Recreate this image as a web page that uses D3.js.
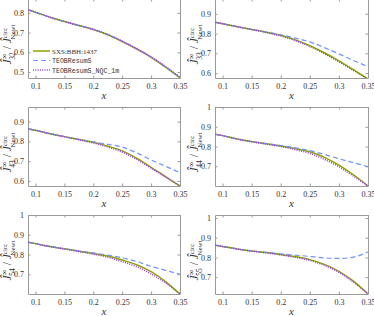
<!DOCTYPE html>
<html>
<head>
<meta charset="utf-8">
<script src="https://cdn.jsdelivr.net/npm/d3@7"></script>
<style>
  body { margin: 0; background: #ffffff; }
  svg { display: block; }
  .tick text { font-family: "Liberation Serif", serif; font-size: 8px; fill: #333; }
</style>
</head>
<body>
<svg id="chart" width="374" height="316"></svg>
<script>
// sample points in x
const xs = [0.0875, 0.1, 0.125, 0.15, 0.175, 0.2, 0.225, 0.25, 0.275, 0.3, 0.325, 0.35];

// (3,2)
const sxs32  = [0.815, 0.803, 0.778, 0.756, 0.736, 0.716, 0.689, 0.655, 0.617, 0.575, 0.525, 0.470];
const teob32 = [0.815, 0.803, 0.778, 0.756, 0.736, 0.716, 0.690, 0.656, 0.618, 0.576, 0.527, 0.472];
const nqc32  = [0.815, 0.803, 0.778, 0.756, 0.736, 0.716, 0.690, 0.656, 0.619, 0.577, 0.528, 0.475];
// (3,3)
const sxs33  = [0.857, 0.850, 0.835, 0.821, 0.807, 0.791, 0.768, 0.739, 0.703, 0.662, 0.617, 0.570];
const teob33 = [0.857, 0.850, 0.835, 0.821, 0.808, 0.794, 0.777, 0.758, 0.729, 0.697, 0.664, 0.632];
const nqc33  = [0.857, 0.850, 0.835, 0.820, 0.805, 0.788, 0.764, 0.734, 0.698, 0.657, 0.613, 0.568];
// (4,3)
const sxs43  = [0.863, 0.856, 0.839, 0.824, 0.810, 0.795, 0.776, 0.752, 0.715, 0.668, 0.622, 0.574];
const teob43 = [0.863, 0.856, 0.839, 0.824, 0.810, 0.797, 0.785, 0.771, 0.742, 0.706, 0.674, 0.641];
const nqc43  = [0.863, 0.856, 0.839, 0.823, 0.808, 0.792, 0.771, 0.746, 0.709, 0.664, 0.619, 0.574];
// (4,4)
const sxs44  = [0.862, 0.855, 0.838, 0.825, 0.814, 0.803, 0.790, 0.773, 0.745, 0.706, 0.657, 0.600];
const teob44 = [0.862, 0.855, 0.838, 0.825, 0.815, 0.805, 0.793, 0.779, 0.760, 0.738, 0.718, 0.698];
const nqc44  = [0.862, 0.855, 0.838, 0.824, 0.812, 0.800, 0.784, 0.765, 0.735, 0.697, 0.650, 0.600];
// (5,4)
const sxs54  = [0.862, 0.855, 0.840, 0.829, 0.817, 0.805, 0.792, 0.772, 0.748, 0.713, 0.663, 0.600];
const teob54 = [0.862, 0.855, 0.840, 0.829, 0.818, 0.808, 0.797, 0.783, 0.765, 0.740, 0.720, 0.700];
const nqc54  = [0.862, 0.855, 0.840, 0.828, 0.815, 0.802, 0.786, 0.764, 0.738, 0.702, 0.656, 0.600];
// (5,5)
const sxs55  = [0.862, 0.856, 0.843, 0.833, 0.825, 0.815, 0.804, 0.789, 0.765, 0.730, 0.680, 0.615];
const teob55 = [0.862, 0.856, 0.843, 0.833, 0.826, 0.818, 0.812, 0.805, 0.798, 0.795, 0.802, 0.828];
const nqc55  = [0.862, 0.856, 0.843, 0.832, 0.823, 0.813, 0.801, 0.785, 0.760, 0.724, 0.675, 0.615];

const xTicks = [0.1, 0.15, 0.2, 0.25, 0.3, 0.35];
const legendLabels = ["SXS:BBH:1437", "TEOBResumS", "TEOBResumS_NQC_1m"];

const panels = [
  { lm: "32", sxs: sxs32, teob: teob32, nqc: nqc32, ylim: [0.47, 0.87],  yticks: [0.5, 0.6, 0.7, 0.8], col: 0, row: 0 },
  { lm: "33", sxs: sxs33, teob: teob33, nqc: nqc33, ylim: [0.575, 0.975], yticks: [0.6, 0.7, 0.8, 0.9], col: 1, row: 0 },
  { lm: "43", sxs: sxs43, teob: teob43, nqc: nqc43, ylim: [0.574, 0.974], yticks: [0.6, 0.7, 0.8, 0.9], col: 0, row: 1 },
  { lm: "44", sxs: sxs44, teob: teob44, nqc: nqc44, ylim: [0.6, 1.0],    yticks: [0.7, 0.8, 0.9, 1], col: 1, row: 1 },
  { lm: "54", sxs: sxs54, teob: teob54, nqc: nqc54, ylim: [0.6, 1.0],    yticks: [0.7, 0.8, 0.9, 1], col: 0, row: 2 },
  { lm: "55", sxs: sxs55, teob: teob55, nqc: nqc55, ylim: [0.615, 1.015], yticks: [0.7, 0.8, 0.9, 1], col: 1, row: 2 }
];

const colLeft = [28, 215];
const colWidth = [152, 153];
const rowTop = [-1, 107, 215];
const plotH = 79;

const styles = [
  { key: "sxs",  color: "#8ea400", width: 1.5, dash: null },
  { key: "teob", color: "#6f93ff", width: 1.2, dash: "5,3" },
  { key: "nqc",  color: "#9a3fd6", width: 1.5, dash: "1,1.3" }
];

const svg = d3.select("#chart");
const frameColor = "#9a9a9a";

panels.forEach(function(p, i) {
  const x0 = colLeft[p.col];
  const y0 = rowTop[p.row];
  const w = colWidth[p.col];

  const x = d3.scaleLinear().domain([0.087, 0.35]).range([0, w]);
  const y = d3.scaleLinear().domain(p.ylim).range([plotH, 0]);

  const g = svg.append("g").attr("transform", `translate(${x0},${y0})`);

  g.append("clipPath").attr("id", "clip" + i)
    .append("rect").attr("width", w).attr("height", plotH);

  const fmtY = d => d === 1 ? "1" : d3.format(".1f")(d);
  const fmtX = d => String(+d.toFixed(2));

  const styleAxis = function(sel) {
    sel.select(".domain").attr("stroke", frameColor);
    sel.selectAll(".tick line").attr("stroke", frameColor);
  };

  g.append("g").attr("transform", `translate(0,${plotH})`)
    .call(d3.axisBottom(x).tickValues(xTicks).tickFormat(fmtX).tickSizeInner(-2.5).tickSizeOuter(0).tickPadding(5))
    .call(styleAxis);
  g.append("g")
    .call(d3.axisTop(x).tickValues(xTicks).tickFormat("").tickSizeInner(-2.5).tickSizeOuter(0))
    .call(styleAxis);
  g.append("g")
    .call(d3.axisLeft(y).tickValues(p.yticks).tickFormat(fmtY).tickSizeInner(-2.5).tickSizeOuter(0).tickPadding(4))
    .call(styleAxis);
  g.append("g").attr("transform", `translate(${w},0)`)
    .call(d3.axisRight(y).tickValues(p.yticks).tickFormat("").tickSizeInner(-2.5).tickSizeOuter(0))
    .call(styleAxis);

  const line = d3.line()
    .x((d, k) => x(xs[k]))
    .y(d => y(d))
    .curve(d3.curveMonotoneX);

  styles.forEach(function(s) {
    g.append("path")
      .attr("clip-path", `url(#clip${i})`)
      .attr("d", line(p[s.key]))
      .attr("fill", "none")
      .attr("stroke", s.color)
      .attr("stroke-width", s.width)
      .attr("stroke-dasharray", s.dash);
  });

  // x label
  g.append("text")
    .attr("x", w / 2)
    .attr("y", plotH + 21)
    .attr("text-anchor", "middle")
    .style("font-family", "Liberation Serif, serif")
    .style("font-style", "italic")
    .style("font-size", "11px")
    .attr("fill", "#333")
    .text("x");

  // y label
  const lab = g.append("text")
    .attr("transform", `translate(${-17},${plotH / 2 + 6}) rotate(-90)`)
    .attr("text-anchor", "middle")
    .style("font-family", "Liberation Serif, serif")
    .style("font-size", "11.5px")
    .attr("fill", "#333");
  lab.append("tspan").style("font-style", "italic").text("\u0134");
  lab.append("tspan").attr("dy", -4.5).style("font-size", "8px").text("\u221e");
  lab.append("tspan").attr("dx", -6).attr("dy", 8).style("font-size", "7.5px").text(p.lm);
  lab.append("tspan").attr("dy", -3.5).text(" / ");
  lab.append("tspan").style("font-style", "italic").text("\u0134");
  lab.append("tspan").attr("dy", -4.5).style("font-size", "7px").text("circ");
  lab.append("tspan").attr("dx", -12).attr("dy", 8).style("font-size", "7px").text("Newt");

  if (i === 0) {
    const leg = g.append("g").attr("transform", "translate(5,52)");
    styles.forEach(function(s, k) {
      const ly = k * 9.5;
      leg.append("line")
        .attr("x1", 0).attr("x2", 17).attr("y1", ly).attr("y2", ly)
        .attr("stroke", s.color)
        .attr("stroke-width", s.width)
        .attr("stroke-dasharray", s.dash);
      leg.append("text")
        .attr("x", 19).attr("y", ly + 2.5)
        .style("font-family", k === 0 ? "Liberation Serif, serif" : "Liberation Mono, monospace")
        .style("font-size", k === 0 ? "7px" : "6.6px")
        .attr("fill", "#333")
        .text(legendLabels[k]);
    });
  }
});
</script>
</body>
</html>
